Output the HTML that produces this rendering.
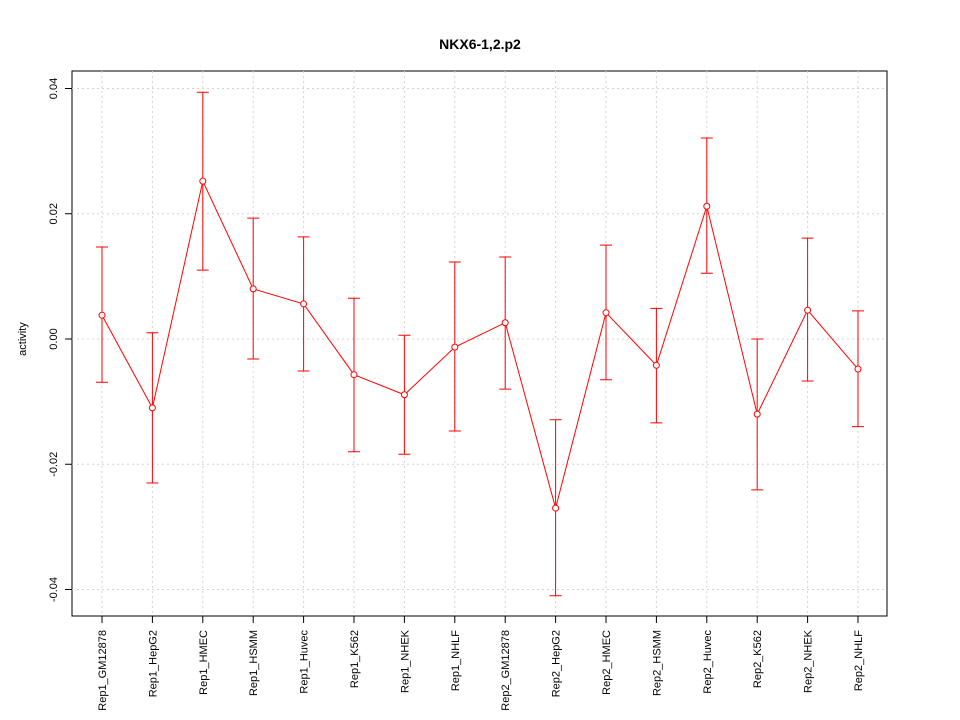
<!DOCTYPE html>
<html><head><meta charset="utf-8"><style>
body{margin:0;background:#fff}
svg{display:block;font-family:"Liberation Sans",sans-serif}
</style></head><body>
<svg id="chart" width="960" height="720">
<text x="480" y="49" text-anchor="middle" font-size="14" font-weight="bold">NKX6-1,2.p2</text>
<rect x="72" y="71" width="815" height="545" fill="none" stroke="#000"/>
<text transform="translate(26,339) rotate(-90)" text-anchor="middle" font-size="11">activity</text>
<g id="grid"></g><g id="axes"></g><g id="marks"></g>
</svg>
<script>
const categories=["Rep1_GM12878","Rep1_HepG2","Rep1_HMEC","Rep1_HSMM","Rep1_Huvec","Rep1_K562","Rep1_NHEK","Rep1_NHLF","Rep2_GM12878","Rep2_HepG2","Rep2_HMEC","Rep2_HSMM","Rep2_Huvec","Rep2_K562","Rep2_NHEK","Rep2_NHLF"];
const values=[0.0038,-0.011,0.0252,0.008,0.0056,-0.0057,-0.0089,-0.0013,0.0026,-0.027,0.0042,-0.0042,0.0212,-0.012,0.0046,-0.0048];
const upper=[0.0147,0.001,0.0394,0.0193,0.0163,0.0065,0.0006,0.0123,0.0131,-0.0129,0.015,0.0049,0.0321,0.0,0.0161,0.0045];
const lower=[-0.0069,-0.023,0.011,-0.0032,-0.0051,-0.018,-0.0184,-0.0147,-0.008,-0.041,-0.0065,-0.0134,0.0105,-0.0241,-0.0067,-0.014];
const yTicks=[-0.04,-0.02,0.00,0.02,0.04];
const yTickLabels=["-0.04","-0.02","0.00","0.02","0.04"];
const NS="http://www.w3.org/2000/svg";
const x=i=>102+i*(858-102)/(categories.length-1);
const y=v=>339-v*6262.5;
function mk(tag,attrs,parent){const e=document.createElementNS(NS,tag);for(const k in attrs)e.setAttribute(k,attrs[k]);document.getElementById(parent).appendChild(e);return e;}
const red="#ff0000";
categories.forEach((c,i)=>{
 const g=mk("line",{x1:x(i),x2:x(i),y1:71,y2:616,stroke:"#d3d3d3","stroke-dasharray":"2,3"},"grid");
 
 
 const t=mk("line",{x1:x(i),x2:x(i),y1:616,y2:623,stroke:"#000"},"axes");
 
 
 const l=mk("text",{transform:`translate(${x(i)+4},630) rotate(-90)`,"text-anchor":"end","font-size":"11"},"axes");
 l.textContent=c;
 
 
});
yTicks.forEach((v,i)=>{
 const g=mk("line",{x1:72,x2:887,y1:y(v),y2:y(v),stroke:"#d3d3d3","stroke-dasharray":"2,3"},"grid");
 
 
 const t=mk("line",{x1:65,x2:72,y1:y(v),y2:y(v),stroke:"#000"},"axes");
 
 
 const l=mk("text",{transform:`translate(57,${y(v)}) rotate(-90)`,"text-anchor":"middle","font-size":"11"},"axes");
 l.textContent=yTickLabels[i];
 
 
});
const line=mk("polyline",{points:values.map((v,i)=>x(i)+","+y(v)).join(" "),fill:"none",stroke:red},"marks");


values.forEach((v,i)=>{
 const e=mk("path",{d:`M${x(i)},${y(upper[i])}V${y(lower[i])}M${x(i)-6},${y(upper[i])}H${x(i)+6}M${x(i)-6},${y(lower[i])}H${x(i)+6}`,stroke:red,fill:"none"},"marks");
 
 
 const p=mk("circle",{cx:x(i),cy:y(v),r:3,fill:"#fff",stroke:red},"marks");
 
 
});
</script>
</body></html>
